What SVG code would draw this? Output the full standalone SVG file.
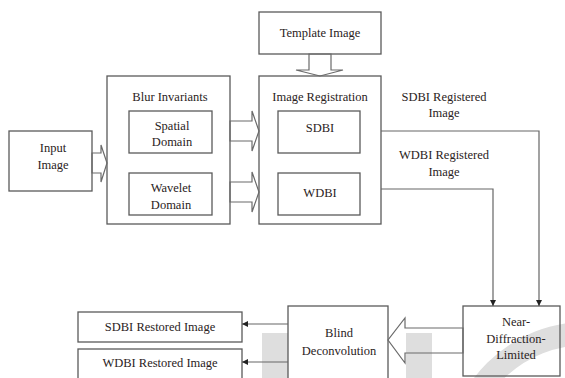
<svg xmlns="http://www.w3.org/2000/svg" width="565" height="378" viewBox="0 0 565 378">
  <style>
    .box { fill: none; stroke: #5a5a5a; stroke-width: 1.3; }
    .blk { fill: none; stroke: #6a6a6a; stroke-width: 1.2; stroke-linejoin: miter; }
    .wire { fill: none; stroke: #666; stroke-width: 1.2; }
    .wm { fill: #dedede; stroke: none; }
    .lbl { font-family: 'Liberation Serif', 'Times New Roman', 'DejaVu Serif', serif; font-size: 12.5px; fill: #2a2222; text-anchor: middle; }
  </style>
  <defs>
    <marker id="tri" viewBox="0 0 8 8" refX="8" refY="4" markerWidth="6" markerHeight="6" orient="auto" markerUnits="userSpaceOnUse">
      <path d="M0,0 L8,4 L0,8 z" fill="#222"/>
    </marker>
  </defs>
  <rect width="565" height="378" fill="#fff"/>

  <!-- background lettering -->
  <g id="watermark">
    <rect class="wm" x="262" y="333" width="26" height="45"/>
    <rect class="wm" x="406" y="333" width="26" height="45"/>
    <circle cx="586" cy="462" r="128.5" fill="none" stroke="#dedede" stroke-width="23"/>
  </g>

  <g class="lbl" font-family="Liberation Serif, Times New Roman, serif">
  <g id="template-image">
    <rect class="box" x="259" y="12" width="122" height="42"/>
    <text x="320" y="37">Template Image</text>
  </g>

  <g id="input-image">
    <rect class="box" x="9" y="131" width="83" height="60"/>
    <text x="53" y="152">Input</text>
    <text x="53" y="169">Image</text>
  </g>

  <g id="blur-invariants">
    <rect class="box" x="107" y="76" width="123" height="148"/>
    <text x="170" y="101">Blur Invariants</text>
  </g>
  <g id="spatial-domain">
    <rect class="box" x="129" y="111" width="83" height="42"/>
    <text x="172" y="130">Spatial</text>
    <text x="172" y="146">Domain</text>
  </g>
  <g id="wavelet-domain">
    <rect class="box" x="129" y="173" width="83" height="42"/>
    <text x="171" y="192">Wavelet</text>
    <text x="171" y="209">Domain</text>
  </g>

  <g id="image-registration">
    <rect class="box" x="259" y="76" width="122" height="148"/>
    <text x="320" y="101">Image Registration</text>
  </g>
  <g id="sdbi">
    <rect class="box" x="278" y="111" width="82" height="42"/>
    <text x="320" y="132">SDBI</text>
  </g>
  <g id="wdbi">
    <rect class="box" x="278" y="173" width="82" height="42"/>
    <text x="320" y="197">WDBI</text>
  </g>

  <g id="near-diffraction-limited">
    <rect class="box" x="463" y="306" width="97" height="70"/>
    <text x="516" y="326">Near-</text>
    <text x="516" y="343">Diffraction-</text>
    <text x="516" y="359">Limited</text>
  </g>

  <g id="blind-deconvolution">
    <rect class="box" x="288" y="306" width="100" height="76"/>
    <text x="339" y="337">Blind</text>
    <text x="339" y="355">Deconvolution</text>
  </g>

  <g id="sdbi-restored">
    <rect class="box" x="78" y="312" width="164" height="30"/>
    <text x="160" y="331">SDBI Restored Image</text>
  </g>
  <g id="wdbi-restored">
    <rect class="box" x="78" y="349" width="164" height="32"/>
    <text x="160" y="367">WDBI Restored Image</text>
  </g>

  <g id="connectors">
    <!-- block arrows -->
    <polygon class="blk" points="309,54 309,70 296,70 320,76 343,70 331,70 331,54"/>
    <polygon class="blk" points="92,153 101,153 101,145 107,163 101,182 101,173 92,173"/>
    <polygon class="blk" points="230,121 252,121 252,111 259,131 252,151 252,141 230,141"/>
    <polygon class="blk" points="230,182 252,182 252,172 259,192 252,212 252,202 230,202"/>
    <polygon class="blk" points="463,328 405,328 405,318 388,340 405,363 405,353 463,353"/>
    <!-- registered image paths -->
    <polyline class="wire" points="381,131 539,131 539,306" marker-end="url(#tri)"/>
    <polyline class="wire" points="381,189 493,189 493,306" marker-end="url(#tri)"/>
    <text x="444" y="101">SDBI Registered</text>
    <text x="444" y="117">Image</text>
    <text x="444" y="159">WDBI Registered</text>
    <text x="444" y="176">Image</text>
    <!-- restored outputs -->
    <line class="wire" x1="288" y1="324" x2="242" y2="324" marker-end="url(#tri)"/>
    <line class="wire" x1="288" y1="362" x2="242" y2="362" marker-end="url(#tri)"/>
  </g>
  </g>
</svg>
